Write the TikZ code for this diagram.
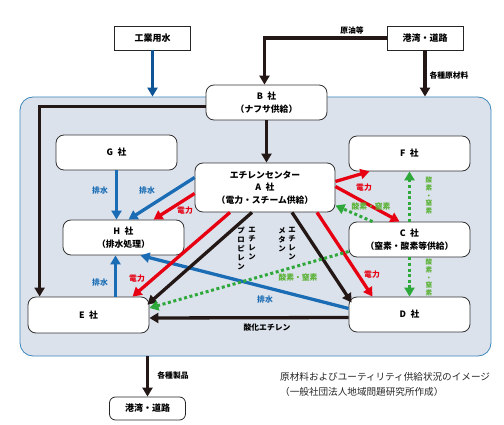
\documentclass[tikz,border=0pt]{standalone}
\usepackage{fontspec}
\setmainfont{Noto Sans CJK JP}
\usepackage{xcolor}
\usetikzlibrary{arrows.meta}

\definecolor{panelfill}{HTML}{DCE2EC}
\definecolor{panelline}{HTML}{3C87B9}
\definecolor{flowblack}{HTML}{231815}
\definecolor{flowred}{HTML}{E60012}
\definecolor{flowblue}{HTML}{1A6DB5}
\definecolor{waterblue}{HTML}{0F5596}
\definecolor{flowgreen}{HTML}{2EA83A}
\definecolor{lblgreen}{HTML}{5AB236}

\begin{document}
\begin{tikzpicture}[
                        x=1pt, y=-1pt,
                        every node/.style={inner sep=0pt},
                        corp/.style={
                                draw=black!80, line width=0.8pt, rounded corners=8pt,
                                fill=white, minimum width=121pt, minimum height=35pt,
                                align=center, font=\bfseries\fontsize{8.8}{13}\selectfont,
                            },
                        port/.style={
                                draw=black!85, line width=0.8pt, fill=white,
                                minimum width=76pt, minimum height=24pt,
                                font=\bfseries\fontsize{9}{11}\selectfont,
                            },
                        lbl/.style={font=\bfseries\fontsize{7.8}{9}\selectfont},
                        vlbl/.style={anchor=north, align=center, font=\bfseries\fontsize{7.4}{9}\selectfont},
                        o2lbl/.style={anchor=north, align=center, text=lblgreen, font=\bfseries\fontsize{6.6}{7.6}\selectfont},
                        flow/.style={line width=3.3pt, flowblack, -{Triangle[length=9pt,width=10pt]}},
                        o2flow/.style={line width=3pt, flowgreen, dash pattern=on 3pt off 2.6pt, -{Triangle[length=9pt,width=10pt]}},
                    ]

                    \useasboundingbox (0,0) rectangle (504,425);

                    \node[draw=panelline, line width=0.8pt, fill=panelfill, rounded corners=13pt,
                        minimum width=471pt, minimum height=259pt] (panel) at (255.5,226.5) {};

                    \node[port] (water) at (152.5,38) {工業用水};
                    \node[port] (portin) at (425,38) {港湾・道路};
                    \node[port, rounded corners=6pt, minimum height=23pt] (portout) at (147.5,408.5) {港湾・道路};

                    \node[corp] (B) at (266.5,102.5) {B\enspace 社\\（ナフサ供給）};
                    \node[corp, minimum width=140pt, minimum height=49pt,
                        font=\bfseries\fontsize{8.8}{12.5}\selectfont] (A) at (265,187.5) {エチレンセンター\\A\enspace 社\\（電力・スチーム供給）};
                    \node[corp] (G) at (116.5,152.5) {G\enspace 社};
                    \node[corp] (F) at (409.5,153.5) {F\enspace 社};
                    \node[corp] (H) at (123.5,237.5) {H\enspace 社\\（排水処理）};
                    \node[corp] (C) at (409.5,239.5) {C\enspace 社\\（窒素・酸素等供給）};
                    \node[corp, minimum height=36pt] (E) at (88.5,315) {E\enspace 社};
                    \node[corp] (D) at (409.5,314.5) {D\enspace 社};

                    \draw[flow, waterblue] (water) -- (water |- panel.north);
                    \draw[flow] (portin.west) -| ([xshift=-2pt]B.north);
                    \draw[flow] (portin) -- (portin |- panel.north);
                    \draw[flow] ([yshift=-4pt]B.west) -| ([xshift=12pt]E.north west);
                    \draw[flow] (B.south) -- (B.south |- A.north);
                    \draw[flow] (portout |- panel.south) -- (portout);

                    \draw[flow, flowblue] (G.south) -- (G.south |- H.north);
                    \draw[flow, flowblue] ([yshift=10pt]A.west) -- ([xshift=5pt]H.north);
                    \draw[flow, flowred] ([yshift=-6pt]A.west) -- ([xshift=30pt]H.north);
                    \draw[flow, flowblue] ([xshift=27pt]E.north) -- ([xshift=27pt]E.north |- H.south);
                    \draw[flow, flowblue] ([yshift=6pt]D.west) -- ([xshift=17pt]H.south);

                    \draw[flow, flowred] ([xshift=-35pt]A.south) -- ([xshift=44pt]E.north);
                    \draw[flow] ([xshift=-13pt]A.south) -- ([xshift=-2pt,yshift=-8pt]E.north east);
                    \draw[flow] ([xshift=27pt]A.south) -- ([xshift=3pt,yshift=-6pt]D.north west);
                    \draw[flow, flowred] ([xshift=52pt]A.south) -- ([xshift=-37pt]D.north);
                    \draw[flow, flowred] ([yshift=6pt]A.east) -- ([xshift=-40pt]F.south);
                    \draw[flow, flowred] ([yshift=1pt]A.east) -- ([xshift=-10pt]C.north);
                    \draw[flow] ([yshift=-3pt]D.west) -- ([yshift=-3pt]E.east);

                    \draw[o2flow] ([xshift=-37pt]C.north) -- ([yshift=-18pt]A.east);
                    \draw[o2flow] (C.north) -- (C.north |- F.south);
                    \draw[o2flow] (C.south) -- (C.south |- D.north);
                    \draw[o2flow] ([yshift=-12pt]C.west) -- ([yshift=7pt]E.east);

                    \node[lbl] (crude) at (352,31) {原油等};
                    \node[lbl] (rawmat) at (449,75) {各種原材料};
                    \node[lbl] (goods) at (173,375) {各種製品};
                    \node[lbl] (eo) at (267,328) {酸化エチレン};

                    \node[lbl, text=flowblue] (wgh) at (100,191) {排水};
                    \node[lbl, text=flowblue] (wah) at (147,191) {排水};
                    \node[lbl, text=flowblue] (weh) at (100,283) {排水};
                    \node[lbl, text=flowblue] (wdh) at (265,300) {排水};

                    \node[lbl, text=flowred] (pah) at (185,211) {電力};
                    \node[lbl, text=flowred] (pae) at (137,279) {電力};
                    \node[lbl, text=flowred] (paf) at (364,188) {電力};
                    \node[lbl, text=flowred] (pad) at (372,275) {電力};

                    \node[lbl, text=lblgreen] (oca) at (371,207) {酸素・窒素};
                    \node[lbl, text=lblgreen] (oce) at (298,278) {酸素・窒素};
                    \node[o2lbl] (ocf) at (429,177) {酸\\素\\・\\窒\\素};
                    \node[o2lbl] (ocd) at (429,259) {酸\\素\\・\\窒\\素};

                    \node[vlbl] (ethe) at (252,227) {エ\\チ\\レ\\ン};
                    \node[vlbl] (prop) at (241,227) {プ\\ロ\\ピ\\レ\\ン};
                    \node[vlbl] (ethd) at (292,227) {エ\\チ\\レ\\ン};
                    \node[vlbl] (meth) at (282,227) {メ\\タ\\ン};

                    \node[anchor=west, font=\fontsize{9.6}{12}\selectfont, text=black!85] (cap1) at (280,377) {原材料およびユーティリティ供給状況のイメージ};
                    \node[anchor=west, font=\fontsize{9.6}{12}\selectfont, text=black!85] (cap2) at (280,392) {（一般社団法人地域問題研究所作成）};
                \end{tikzpicture}
\end{document}
